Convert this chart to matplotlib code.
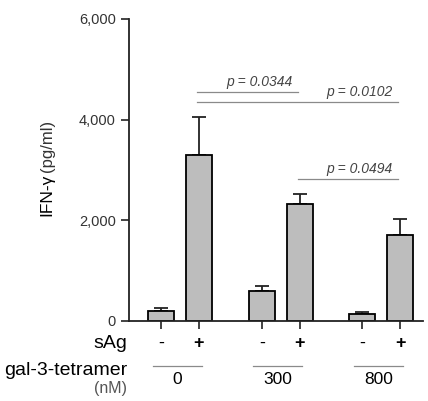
import matplotlib
matplotlib.use("Agg")
import matplotlib.pyplot as plt
import numpy as np

plt.rcParams['font.family'] = ['Liberation Sans', 'DejaVu Sans']

# data
groups = ['0', '300', '800']
sag = ['-', '+', '-', '+', '-', '+']
means = [205, 3300, 597, 2328, 133, 1711]
errs = [60, 750, 100, 205, 40, 320]
# (left bar, right bar, label, line height)
comparisons = [
    (1, 3, 'p = 0.0344', 4540),
    (1, 5, 'p = 0.0102', 4360),
    (3, 5, 'p = 0.0494', 2830),
]
yticks = [0, 2000, 4000, 6000]

# bar positions: two bars per group, groups spaced apart
gap = 2.65
xpos = np.array([g * gap + k for g in range(len(groups)) for k in (0, 1)])
centers = np.array([g * gap + 0.5 for g in range(len(groups))])

fig = plt.figure(figsize=(4.28, 4.01), dpi=100)
W, H = 428, 401
ax = fig.add_axes([129 / W, 1 - 321 / H, (423 - 129) / W, (321 - 19) / H])

ax.bar(xpos, means, width=0.68, color='#bdbdbd', edgecolor='black',
       linewidth=1.3, zorder=2)
ax.errorbar(xpos, means, yerr=[np.zeros(len(errs)), errs], fmt='none',
            ecolor='#222222', elinewidth=1.3, capsize=5, capthick=1.3, zorder=1)

ax.set_xlim(-0.842, 6.895)
ax.set_ylim(0, 6000)
ax.set_yticks(yticks)
ax.set_yticklabels([f'{v:,}' for v in yticks], color='#333333', fontsize=10.5)
ax.set_xticks(xpos)
ax.set_xticklabels([])
ax.tick_params(axis='both', direction='out', length=6, width=1.2, color='#222222')
for s in ['top', 'right']:
    ax.spines[s].set_visible(False)
for s in ['left', 'bottom']:
    ax.spines[s].set_linewidth(1.3)
    ax.spines[s].set_color('#222222')

# significance lines
for i, j, lab, h in comparisons:
    ax.plot([xpos[i] - 0.05, xpos[j] - 0.05], [h, h], color='#8a8a8a', lw=0.9,
            clip_on=False)
    tx = (xpos[j - 2] + xpos[j]) / 2 + 0.26
    ax.text(tx, h + 60, lab, ha='center', va='bottom', fontsize=10,
            style='italic', color='#444444')

# rows below the axis
tr = ax.get_xaxis_transform()
for x, s in zip(xpos, sag):
    ax.text(x, -0.073, s, transform=tr, ha='center', va='center',
            fontsize=13, fontweight='bold' if s == '+' else 'normal')
for c, g in zip(centers, groups):
    ax.plot([c - 0.72, c + 0.57], [-0.149, -0.149], transform=tr,
            color='#8a8a8a', lw=0.9, clip_on=False)
    ax.text(c - 0.07, -0.194, g, transform=tr, ha='center', va='center',
            fontsize=12.5)

ax.text(-0.007, -0.075, 'sAg', transform=ax.transAxes, ha='right',
        va='center', fontsize=14)
ax.text(-0.007, -0.164, 'gal-3-tetramer', transform=ax.transAxes, ha='right',
        va='center', fontsize=14)
ax.text(-0.007, -0.224, '(nM)', transform=ax.transAxes, ha='right',
        va='center', fontsize=11.5, color='#555555')

# y label in two parts
fig.text(47 / W, 1 - 216 / H, 'IFN-γ', rotation=90, ha='center', va='bottom',
         fontsize=12.5)
fig.text(47 / W, 1 - 172 / H, '(pg/ml)', rotation=90, ha='center',
         va='bottom', fontsize=12, color='#333333')

fig.savefig('out.png', dpi=100)
